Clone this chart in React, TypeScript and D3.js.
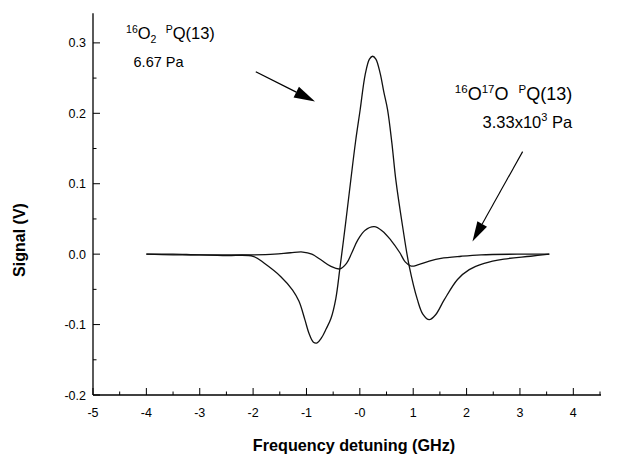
import React from 'react';
import * as d3 from 'd3';

const xTicks = [-5, -4, -3, -2, -1, 0, 1, 2, 3, 4];
const xTickLabels = ['-5', '-4', '-3', '-2', '-1', '-0', '1', '2', '3', '4'];
const xMinorTicks = [-4.5, -3.5, -2.5, -1.5, -0.5, 0.5, 1.5, 2.5, 3.5, 4.5];
const yTicks = [-0.2, -0.1, 0, 0.1, 0.2, 0.3];
const yTickLabels = ['-0.2', '-0.1', '0.0', '0.1', '0.2', '0.3'];
const yMinorTicks = [-0.15, -0.05, 0.05, 0.15, 0.25];

// 16O2 PQ(13), 6.67 Pa
const o2Freq = [-4.0, -3.5, -3.0, -2.5, -2.0, -1.79, -1.48, -1.26, -1.14, -1.03, -0.95, -0.87, -0.8, -0.72, -0.63, -0.54, -0.45, -0.375, -0.27, -0.17, -0.08, 0.006, 0.1, 0.18, 0.24, 0.3, 0.38, 0.45, 0.52, 0.6, 0.675, 0.8, 0.925, 1.08, 1.18, 1.3, 1.42, 1.58, 1.83, 2.05, 2.33, 2.7, 3.2, 3.55];
const o2Signal = [0.0, -0.001, -0.001, -0.002, -0.003, -0.013, -0.032, -0.051, -0.067, -0.093, -0.113, -0.125, -0.126, -0.119, -0.106, -0.091, -0.063, -0.021, 0.042, 0.105, 0.16, 0.205, 0.255, 0.277, 0.281, 0.277, 0.257, 0.23, 0.205, 0.158, 0.105, 0.04, -0.017, -0.065, -0.085, -0.093, -0.086, -0.065, -0.036, -0.022, -0.013, -0.007, -0.003, 0.0];

// 16O17O PQ(13), 3.33x10^3 Pa
const o17Freq = [-4.0, -3.5, -3.0, -2.5, -2.0, -1.6, -1.3, -1.07, -0.9, -0.73, -0.55, -0.375, -0.25, -0.15, -0.04, 0.1, 0.27, 0.42, 0.58, 0.75, 0.85, 0.96, 1.1, 1.3, 1.52, 1.9, 2.27, 3.0, 3.55];
const o17Signal = [0.0, 0.0, -0.001, -0.001, -0.001, 0.0, 0.002, 0.003, 0.0, -0.008, -0.017, -0.021, -0.013, 0.002, 0.02, 0.034, 0.039, 0.033, 0.02, 0.002, -0.011, -0.017, -0.015, -0.01, -0.006, -0.003, -0.001, 0.0, 0.0];

// annotation anchors (data coordinates)
const arrow1 = { x1: -1.95, y1: 0.259, x2: -0.84, y2: 0.2166 };
const arrow2 = { x1: 3.05, y1: 0.1456, x2: 2.11, y2: 0.018 };
const label1 = { x: -4.38, y: 0.3055, x2: -4.24, y2: 0.266 };
const label2 = { x: 1.78, y: 0.219, x2: 2.3, y2: 0.179 };

const W = 632;
const H = 456;
const FONT = '"Liberation Sans", Arial, Helvetica, sans-serif';

function arrowHead(x1: number, y1: number, x2: number, y2: number, len: number, half: number) {
  const dx = x2 - x1;
  const dy = y2 - y1;
  const d = Math.sqrt(dx * dx + dy * dy);
  const ux = dx / d;
  const uy = dy / d;
  const bx = x2 - ux * len;
  const by = y2 - uy * len;
  const px = -uy * half;
  const py = ux * half;
  return { path: `M${x2},${y2}L${bx + px},${by + py}L${bx - px},${by - py}Z`, bx, by };
}

export default function App() {
  const x = d3.scaleLinear().domain([-5, 4.5]).range([93, 600]);
  const y = d3.scaleLinear().domain([-0.2, 0.342]).range([395, 13.3]);
  const line = d3
    .line<[number, number]>()
    .x((d) => x(d[0]))
    .y((d) => y(d[1]))
    .curve(d3.curveCatmullRom.alpha(0.5));
  const o2 = line(o2Freq.map((f, i) => [f, o2Signal[i]]) as [number, number][]) || '';
  const o17 = line(o17Freq.map((f, i) => [f, o17Signal[i]]) as [number, number][]) || '';

  const a1 = { x1: x(arrow1.x1), y1: y(arrow1.y1), x2: x(arrow1.x2), y2: y(arrow1.y2) };
  const a2 = { x1: x(arrow2.x1), y1: y(arrow2.y1), x2: x(arrow2.x2), y2: y(arrow2.y2) };
  const h1 = arrowHead(a1.x1, a1.y1, a1.x2, a1.y2, 21, 6);
  const h2 = arrowHead(a2.x1, a2.y1, a2.x2, a2.y2, 20, 5.5);

  const axisBottom = y(-0.2);
  const axisLeft = x(-5);

  return (
    <svg
      width={W}
      height={H}
      style={{ position: 'absolute', left: 0, top: 0, background: '#fff' }}
      fontFamily={FONT}
    >
      {/* curves */}
      <path d={o2} fill="none" stroke="#111" strokeWidth={1.3} />
      <path d={o17} fill="none" stroke="#111" strokeWidth={1.3} />

      {/* axes */}
      <line x1={axisLeft} x2={x(4.5) + 1} y1={axisBottom} y2={axisBottom} stroke="#000" strokeWidth={1.6} />
      <line x1={axisLeft} x2={axisLeft} y1={axisBottom} y2={y(0.342)} stroke="#000" strokeWidth={1.3} />
      {xTicks.map((t) => (
        <line key={'xt' + t} x1={x(t)} x2={x(t)} y1={axisBottom} y2={axisBottom - 7} stroke="#000" strokeWidth={1} />
      ))}
      {xMinorTicks.map((t) => (
        <line key={'xm' + t} x1={x(t)} x2={x(t)} y1={axisBottom} y2={axisBottom - 3.5} stroke="#000" strokeWidth={1} />
      ))}
      {yTicks.map((t) => (
        <line key={'yt' + t} x1={axisLeft} x2={axisLeft + 7} y1={y(t)} y2={y(t)} stroke="#000" strokeWidth={1} />
      ))}
      {yMinorTicks.map((t) => (
        <line key={'ym' + t} x1={axisLeft} x2={axisLeft + 3.5} y1={y(t)} y2={y(t)} stroke="#000" strokeWidth={1} />
      ))}
      {xTicks.map((t, i) => (
        <text key={'xl' + t} x={x(t)} y={417} textAnchor="middle" fontSize={12.5} fill="#000">
          {xTickLabels[i]}
        </text>
      ))}
      {yTicks.map((t, i) => (
        <text key={'yl' + t} x={86} y={y(t) + 4.5} textAnchor="end" fontSize={12.5} fill="#000">
          {yTickLabels[i]}
        </text>
      ))}

      {/* axis titles */}
      <text x={354} y={451} textAnchor="middle" fontSize={16.2} fontWeight="bold" fill="#000">
        Frequency detuning (GHz)
      </text>
      <text
        transform={`translate(25,240) rotate(-90)`}
        textAnchor="middle"
        fontSize={16}
        fontWeight="bold"
        fill="#000"
      >
        Signal (V)
      </text>

      {/* arrows */}
      <line x1={a1.x1} y1={a1.y1} x2={h1.bx} y2={h1.by} stroke="#000" strokeWidth={1.3} />
      <path d={h1.path} fill="#000" />
      <line x1={a2.x1} y1={a2.y1} x2={h2.bx} y2={h2.by} stroke="#000" strokeWidth={1.1} />
      <path d={h2.path} fill="#000" />

      {/* labels */}
      <text x={x(label1.x)} y={y(label1.y)} fontSize={16.5} fill="#000">
        <tspan fontSize={10.5} dy={-6}>16</tspan>
        <tspan dy={6}>O</tspan>
        <tspan fontSize={10.5} dy={4}>2</tspan>
        <tspan dy={-4}>{'\u00a0\u00a0'}</tspan>
        <tspan fontSize={10.5} dy={-6}>P</tspan>
        <tspan dy={6}>Q(13)</tspan>
      </text>
      <text x={x(label1.x2)} y={y(label1.y2)} fontSize={14.5} fill="#000">
        6.67 Pa
      </text>
      <text x={x(label2.x)} y={y(label2.y)} fontSize={18} fill="#000">
        <tspan fontSize={11.5} dy={-7}>16</tspan>
        <tspan dy={7}>O</tspan>
        <tspan fontSize={11.5} dy={-7}>17</tspan>
        <tspan dy={7}>O</tspan>
        <tspan>{'\u00a0\u00a0'}</tspan>
        <tspan fontSize={11.5} dy={-7}>P</tspan>
        <tspan dy={7}>Q(13)</tspan>
      </text>
      <text x={x(label2.x2)} y={y(label2.y2)} fontSize={16.5} fill="#000">
        <tspan>3.33x10</tspan>
        <tspan fontSize={11} dy={-7}>3</tspan>
        <tspan dy={7}>{'\u00a0Pa'}</tspan>
      </text>
    </svg>
  );
}
